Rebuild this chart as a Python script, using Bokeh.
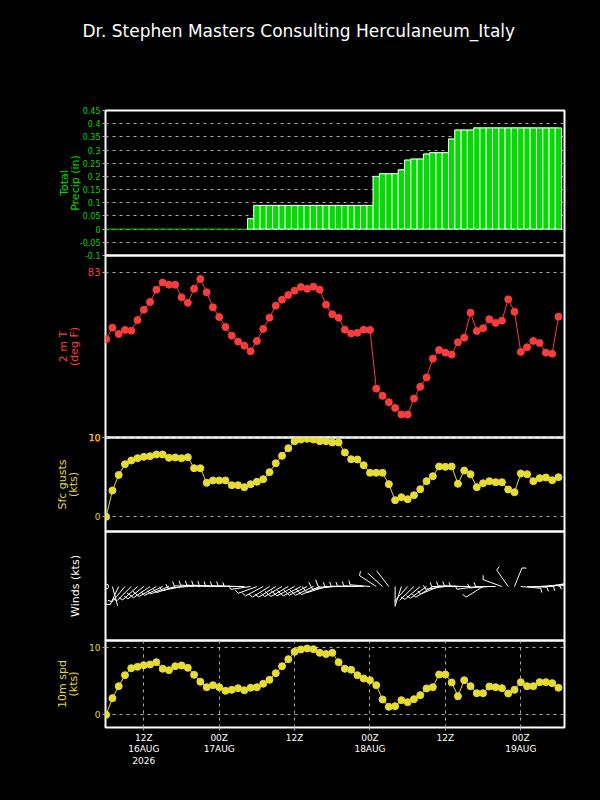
import math
from bokeh.plotting import figure
from bokeh.layouts import column
from bokeh.models import Range1d, FixedTicker, CustomJSTickFormatter, ColumnDataSource
from bokeh.embed import file_html
from bokeh.resources import INLINE

# ---------------- data ----------------
TITLE = "Dr. Stephen Masters Consulting  Herculaneum_Italy"

hours = list(range(73))  # hourly from 06Z 16AUG2026

precip_in = [0, 0, 0, 0, 0, 0, 0, 0, 0, 0,
             0, 0, 0, 0, 0, 0, 0, 0, 0, 0,
             0, 0, 0, 0.04, 0.09, 0.09, 0.09, 0.09, 0.09, 0.09,
             0.09, 0.09, 0.09, 0.09, 0.09, 0.09, 0.09, 0.09, 0.09, 0.09,
             0.09, 0.09, 0.09, 0.20, 0.21, 0.21, 0.21, 0.225, 0.262, 0.266,
             0.266, 0.285, 0.29, 0.29, 0.29, 0.342, 0.376, 0.376, 0.376, 0.384,
             0.384, 0.384, 0.384, 0.384, 0.384, 0.384, 0.384, 0.384, 0.384, 0.384,
             0.384, 0.384, 0.384]

temp_f = [77.74, 78.65, 78.15, 78.47, 78.41, 79.25, 80.06, 80.67, 81.64, 82.2,
          82.03, 82.03, 81.04, 80.6, 81.71, 82.48, 81.43, 80.25, 79.49, 78.7,
          78.02, 77.55, 77.23, 76.79, 77.6, 78.55, 79.43, 80.38, 80.85, 81.22,
          81.56, 81.85, 81.71, 81.87, 81.64, 80.46, 79.7, 79.43, 78.49, 78.18,
          78.25, 78.49, 78.47, 73.85, 73.28, 72.78, 72.33, 71.81, 71.81, 73.07,
          73.99, 74.72, 76.21, 76.89, 76.68, 76.53, 77.5, 77.86, 79.83, 78.39,
          78.6, 79.31, 79.02, 79.2, 80.88, 79.9, 76.74, 77.1, 77.6, 77.44,
          76.68, 76.6, 79.51]

gust_kts = [0, 3.33, 5.3, 6.66, 7.13, 7.42, 7.59, 7.67, 7.89, 7.89,
            7.47, 7.51, 7.42, 7.54, 6.15, 6.15, 4.3, 4.6, 4.6, 4.6,
            4.0, 4.0, 3.75, 4.13, 4.43, 4.76, 5.65, 6.78, 7.72, 8.68,
            9.57, 9.78, 9.87, 9.78, 9.57, 9.57, 9.41, 9.41, 8.14, 7.29,
            7.25, 6.53, 5.57, 5.57, 5.57, 4.13, 2.1, 2.48, 2.23, 2.73,
            3.49, 4.51, 5.14, 6.37, 6.33, 6.37, 4.18, 5.86, 5.39, 3.75,
            4.25, 4.51, 4.38, 4.38, 3.46, 3.11, 5.48, 5.39, 4.51, 4.89,
            4.97, 4.63, 5.01]

spd10_kts = [0, 2.48, 4.27, 5.91, 6.96, 7.16, 7.4, 7.51, 7.85, 6.87,
             6.66, 7.25, 7.36, 7.01, 5.97, 4.93, 4.12, 4.42, 4.12, 3.58,
             3.73, 3.97, 3.67, 4.03, 4.12, 4.63, 5.22, 6.21, 7.25, 8.3,
             9.4, 9.75, 9.9, 9.79, 9.25, 9.07, 9.25, 7.85, 6.87, 6.72,
             5.91, 5.42, 5.16, 4.42, 2.28, 1.19, 1.28, 2.18, 1.88, 2.33,
             2.93, 3.93, 4.12, 6.01, 6.01, 4.82, 2.78, 5.16, 4.27, 3.22,
             3.22, 4.22, 4.12, 3.97, 3.18, 3.73, 4.87, 4.27, 4.27, 4.87,
             4.87, 4.72, 4.03]

# wind direction (deg, from) for the barbs
wind_dir = [0, 165, 205, 220, 225, 228, 232, 236, 240, 244,
            248, 252, 258, 265, 272, 274, 274, 274, 273, 272,
            272, 272, 270, 262, 250, 242, 238, 238, 240, 240,
            242, 242, 244, 244, 246, 252, 262, 268, 270, 271,
            271, 272, 275, 303, 312, 322, 180, 198, 222, 226,
            230, 234, 238, 248, 262, 270, 272, 272, 270, 262,
            238, 266, 270, 290, 325, 22, 95, 92, 90, 86,
            82, 78, 75]

precip_ticks = [-0.1, -0.05, 0, 0.05, 0.1, 0.15, 0.2, 0.25, 0.3, 0.35, 0.4, 0.45]
temp_ticks = [70, 83]
kts_ticks = [0, 10]
time_ticks = [6, 18, 30, 42, 54, 66]
time_labels = ["12Z\n16AUG\n2026", "00Z\n17AUG", "12Z", "00Z\n18AUG", "12Z", "00Z\n19AUG"]

# ---------------- style ----------------
GREEN = "#00dc00"
RED = "#fa3c3c"
YELLOW = "#e6dc32"
GRID = "#aaaaaa"
FONT = "DejaVu Sans"
FW = 459
LEFT = 105
RIGHT = 20
PAD = 8
X_START, X_END = -0.1, 72.96
x_range = Range1d(X_START, X_END)


def panel(frame_h, yr, ticks, color, label, lab_standoff, tick_size="9px",
          top=PAD, bottom=PAD, shift=2 * PAD):
    p = figure(frame_width=FW, frame_height=frame_h, x_range=x_range,
               y_range=Range1d(*yr), min_border_left=LEFT, min_border_right=RIGHT,
               min_border_top=top, min_border_bottom=bottom,
               toolbar_location=None, output_backend="svg",
               background_fill_alpha=0, border_fill_alpha=0,
               outline_line_color="white", outline_line_width=2,
               margin=(-shift, 0, 0, 0))
    p.xaxis.visible = False
    p.xgrid.visible = False
    ya = p.yaxis[0]
    ya.ticker = FixedTicker(ticks=ticks)
    ya.axis_line_color = None
    ya.major_tick_line_color = GRID
    ya.major_tick_out = 3
    ya.major_tick_in = 0
    ya.minor_tick_line_color = None
    ya.major_label_text_color = color
    ya.major_label_text_font = FONT
    ya.major_label_text_font_size = tick_size
    ya.major_label_standoff = 2
    ya.axis_label = label
    ya.axis_label_text_color = color
    ya.axis_label_text_font = FONT
    ya.axis_label_text_font_size = "11px"
    ya.axis_label_text_font_style = "normal"
    ya.axis_label_text_line_height = 0.85
    ya.axis_label_standoff = lab_standoff
    p.ygrid.ticker = FixedTicker(ticks=ticks)
    p.ygrid.grid_line_color = GRID
    p.ygrid.grid_line_dash = "3 4"
    p.ygrid.grid_line_width = 1
    return p


# ---- title strip ----
ft = figure(frame_width=FW, frame_height=48, x_range=Range1d(0, 1), y_range=Range1d(0, 1),
            min_border_left=LEFT, min_border_right=RIGHT, min_border_top=62, min_border_bottom=0,
            toolbar_location=None, output_backend="svg",
            background_fill_alpha=0, border_fill_alpha=0, outline_line_color=None)
ft.xaxis.visible = False
ft.yaxis.visible = False
ft.grid.visible = False
ft.title.text = TITLE
ft.title.text_color = "white"
ft.title.text_font = FONT
ft.title.text_font_size = "17px"
ft.title.text_font_style = "normal"
ft.title.align = "left"
ft.title.offset = -23
ft.title.vertical_align = "top"
ft.title.standoff = 40

# ---- panel 1: total precip ----
f1 = panel(145, (-0.1, 0.45), precip_ticks, GREEN, "Total\nPrecip (in)", -5,
           tick_size="8px", shift=PAD)
f1.yaxis[0].formatter = CustomJSTickFormatter(code="return String(parseFloat(tick.toFixed(2)));")
f1.step(hours, precip_in, mode="center", line_color=GREEN, line_width=1)
bar_src = ColumnDataSource(dict(x=[h for h, v in zip(hours, precip_in) if v > 0],
                                top=[v for v in precip_in if v > 0]))
f1.vbar(x="x", top="top", bottom=0, width=1, source=bar_src,
        fill_color=GREEN, line_color="white", line_width=1)

# ---- panel 2: 2 m temperature ----
f2 = panel(182, (70, 84.33), temp_ticks, RED, "2 m T\n(deg F)", 4, tick_size="10px")
f2.line(hours, temp_f, line_color=RED, line_width=1)
f2.scatter(hours, temp_f, size=7, marker="circle", fill_color=RED, line_color=RED)

# ---- panel 3: surface gusts ----
f3 = panel(94, (-1.86, 10.04), kts_ticks, YELLOW, "Sfc gusts\n(kts)", 6)
f3.line(hours, gust_kts, line_color=YELLOW, line_width=1)
f3.scatter(hours, gust_kts, size=7, marker="circle", fill_color=YELLOW, line_color=YELLOW)

# ---- panel 4: wind barbs ----
WH = 109
BASE = 54
f4 = panel(WH, (0, WH), [], "white", "Winds (kts)", 24)
STAFF, FULL, HALF, SPACE, ROT = 20.0, 8.0, 4.5, 3.0, 70.0
pxh = FW / (X_END - X_START)
sx0, sy0, sx1, sy1 = [], [], [], []
calm_x = []
for h, d, s in zip(hours, wind_dir, spd10_kts):
    if s <= 0:
        calm_x.append(h)
        continue
    a = math.radians(90.0 - d)
    ux, uy = math.cos(a), math.sin(a)
    sx0.append(h); sy0.append(BASE)
    sx1.append(h + STAFF * ux / pxh); sy1.append(BASE + STAFF * uy)
    r = 5 * round(s / 5)
    nfull, nhalf = r // 10, (r % 10) // 5
    b = a - math.radians(ROT)
    bx, by = math.cos(b), math.sin(b)
    pos = STAFF
    for k in range(nfull):
        px, py = h + pos * ux / pxh, BASE + pos * uy
        sx0.append(px); sy0.append(py)
        sx1.append(px + FULL * bx / pxh); sy1.append(py + FULL * by)
        pos -= SPACE
    if nhalf:
        px, py = h + pos * ux / pxh, BASE + pos * uy
        sx0.append(px); sy0.append(py)
        sx1.append(px + HALF * bx / pxh); sy1.append(py + HALF * by)
f4.segment(x0=sx0, y0=sy0, x1=sx1, y1=sy1, line_color="white", line_width=1)
f4.scatter(calm_x, [BASE] * len(calm_x), size=5, marker="circle",
           fill_color=None, line_color="white")

# ---- panel 5: 10 m wind speed ----
f5 = panel(87, (-1.9, 11.09), kts_ticks, YELLOW, "10m spd\n(kts)", 6, bottom=45)
f5.line(hours, spd10_kts, line_color=YELLOW, line_width=1)
f5.scatter(hours, spd10_kts, size=7, marker="circle", fill_color=YELLOW, line_color=YELLOW)
f5.xaxis.visible = True
xa = f5.xaxis[0]
xa.ticker = FixedTicker(ticks=time_ticks)
xa.major_label_overrides = dict(zip(time_ticks, time_labels))
xa.axis_line_color = None
xa.major_tick_line_color = GRID
xa.major_tick_out = 3
xa.major_tick_in = 0
xa.minor_tick_line_color = None
xa.major_label_text_color = "white"
xa.major_label_text_font = FONT
xa.major_label_text_font_size = "9px"
xa.major_label_text_line_height = 1.15
xa.major_label_standoff = 2
f5.xgrid.visible = True
f5.xgrid.ticker = FixedTicker(ticks=time_ticks)
f5.xgrid.grid_line_color = GRID
f5.xgrid.grid_line_dash = "3 4"

layout = column(ft, f1, f2, f3, f4, f5, spacing=0, styles={"background-color": "black"})

html = file_html(layout, INLINE, title="Meteogram Herculaneum_Italy")
html = html.replace("<head>", "<head><style>html, body {background-color: #000000;}</style>", 1)
open("out.html", "w").write(html)
